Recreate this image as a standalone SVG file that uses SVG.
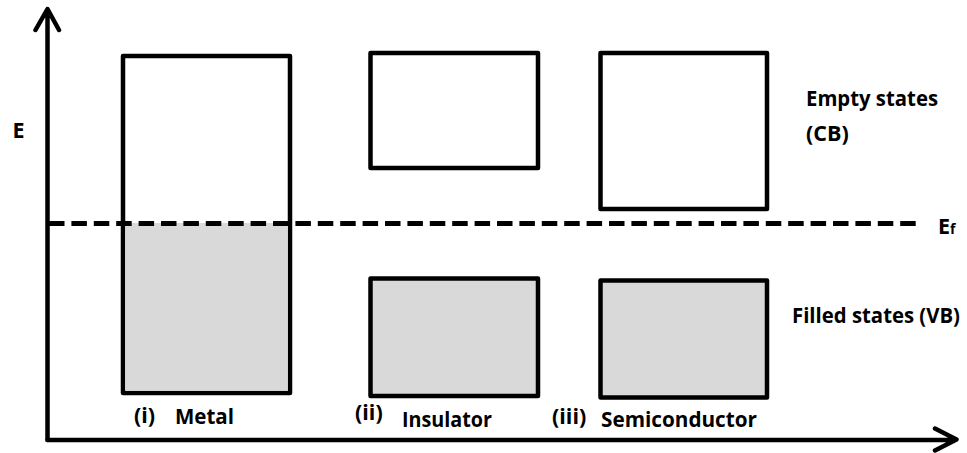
<svg xmlns="http://www.w3.org/2000/svg" width="967" height="453" viewBox="0 0 967 453">
  <style>
    .band { fill: #ffffff; stroke: #000000; stroke-width: 4.5; stroke-linejoin: round; }
    .filled { fill: #d9d9d9; }
    .axis { fill: none; stroke: #000000; stroke-width: 4.5; stroke-linecap: round; stroke-linejoin: round; }
    .fermi { fill: none; stroke: #000000; stroke-width: 5; stroke-dasharray: 15.5 6.9; }
    .lbl { font-family: "Open Sans", "Liberation Sans", sans-serif; font-weight: bold; font-size: 21.5px; fill: #000000; }
  </style>

  <!-- energy and position axes -->
  <g id="axes">
    <path class="axis" d="M47.5 440 L47.5 10 M35.5 30 L47.5 9 L59 30"/>
    <path class="axis" d="M47.5 440 L955 440 M935 428.5 L956.5 439.5 L935 450.5"/>
    <text class="lbl" x="12.5" y="137.5">E</text>
  </g>

  <!-- metal: one band, partly filled up to the Fermi level -->
  <g id="metal">
    <rect class="band" x="123" y="56" width="167" height="337"/>
    <rect class="filled" x="125.25" y="223" width="162.5" height="167.75"/>
    <text class="lbl" x="134" y="423">(i)</text>
    <text class="lbl" x="175" y="424" textLength="59" lengthAdjust="spacingAndGlyphs">Metal</text>
  </g>

  <!-- insulator: wide gap -->
  <g id="insulator">
    <rect class="band" x="370.5" y="53" width="167.5" height="115"/>
    <rect class="band" x="370.5" y="278.5" width="167.5" height="117.5" style="fill:#d9d9d9"/>
    <text class="lbl" x="355" y="420">(ii)</text>
    <text class="lbl" x="402" y="427" textLength="90" lengthAdjust="spacingAndGlyphs">Insulator</text>
  </g>

  <!-- semiconductor: narrow gap -->
  <g id="semiconductor">
    <rect class="band" x="600.5" y="53" width="166.5" height="156"/>
    <rect class="band" x="600.5" y="280.5" width="166.5" height="117" style="fill:#d9d9d9"/>
    <text class="lbl" x="552" y="424">(iii)</text>
    <text class="lbl" x="601" y="427" textLength="156" lengthAdjust="spacingAndGlyphs">Semiconductor</text>
  </g>

  <!-- Fermi level -->
  <g id="connectors">
    <line class="fermi" x1="49" y1="223.5" x2="917" y2="223.5"/>
  </g>

  <!-- legend -->
  <g id="labels">
    <text class="lbl" x="806" y="106" textLength="132" lengthAdjust="spacingAndGlyphs">Empty states</text>
    <text class="lbl" x="806" y="141">(CB)</text>
    <text class="lbl" x="938" y="233.5">E<tspan font-size="14">f</tspan></text>
    <text class="lbl" x="792" y="323" font-size="20.5" style="font-size:20.5px" textLength="168" lengthAdjust="spacingAndGlyphs">Filled states (VB)</text>
  </g>
</svg>
